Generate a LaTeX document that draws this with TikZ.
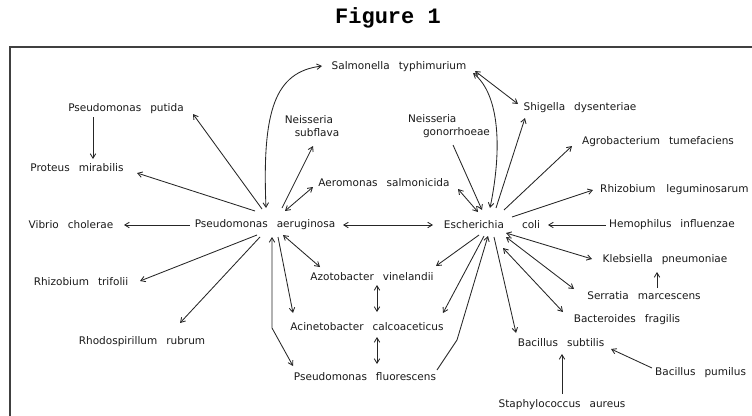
\documentclass[tikz,border=0pt]{standalone}
\usepackage{fontspec}
\usetikzlibrary{arrows.meta}
\newfontfamily\labfont{DejaVu Sans}
\newfontfamily\titfont{Liberation Mono}
\newcommand\wg{\hspace{9pt}}
\begin{document}
\begin{tikzpicture}[x=1pt,y=-1pt,
  lab/.style={inner sep=0pt, font=\labfont\fontsize{10.5}{13}\selectfont, text=black!90},
  arr/.style={-{Straight Barb[length=4.5pt,width=5.5pt]}, line width=0.85pt, draw=black!85},
  darr/.style={{Straight Barb[length=4.5pt,width=5.5pt]}-{Straight Barb[length=4.5pt,width=5.5pt]}, line width=0.85pt, draw=black!85},
  frame/.style={line width=2.6pt, draw=black!75}]
\useasboundingbox (0,0) rectangle (752,415);
\node[inner sep=0pt, font=\titfont\bfseries\fontsize{22}{24}\selectfont] (title) at (388,18) {Figure 1};
\draw[frame] (10,416) -- (10,47) -- (753,47);
% nodes
\node[lab] (Sal) at (399,67) {Salmonella\wg typhimurium};
\node[lab] (Shi) at (580,108) {Shigella\wg dysenteriae};
\node[lab] (Put) at (126,109) {Pseudomonas\wg putida};
\node[lab, align=left] (NSub) at (312,126.5) {Neisseria\\\hspace*{10pt}subflava};
\node[lab, align=left] (NGon) at (449,126.5) {Neisseria\\\hspace*{15pt}gonorrhoeae};
\node[lab] (Agr) at (658,142) {Agrobacterium\wg tumefaciens};
\node[lab] (Pro) at (77,168) {Proteus\wg mirabilis};
\node[lab] (Aer) at (384,183) {Aeromonas\wg salmonicida};
\node[lab, anchor=west] (RLeg) at (600,190) {Rhizobium\hspace{11pt}leguminosarum};
\node[lab] (Vib) at (71,225) {Vibrio\wg cholerae};
\node[lab] (PA) at (265,225) {Pseudomonas\wg aeruginosa};
\node[lab] (EC) at (492,225) {Escherichia\hspace{18pt}coli};
\node[lab] (Hem) at (672,225) {Hemophilus\wg influenzae};
\node[lab] (RTri) at (81,282) {Rhizobium\wg trifolii};
\node[lab] (Azo) at (372,277) {Azotobacter\wg vinelandii};
\node[lab] (Kle) at (665,260) {Klebsiella\wg pneumoniae};
\node[lab] (Ser) at (644,296) {Serratia\wg marcescens};
\node[lab] (Aci) at (367,327) {Acinetobacter\wg calcoaceticus};
\node[lab] (Bac) at (627,320) {Bacteroides\wg fragilis};
\node[lab] (Rho) at (142,342) {Rhodospirillum\wg rubrum};
\node[lab] (BSub) at (561,343) {Bacillus\wg subtilis};
\node[lab, anchor=west] (BPum) at (655,373) {Bacillus\wg pumilus};
\node[lab] (PFl) at (365,377) {Pseudomonas\wg fluorescens};
\node[lab] (Sta) at (562,405) {Staphylococcus\wg aureus};
% Pseudomonas aeruginosa connectors
\draw[arr] ([shift={(-3,-16)}]PA.center) -- ([shift={(67,5)}]Put.center);
\draw[arr] ([shift={(-10,-14)}]PA.center) -- ([shift={(60,5)}]Pro.center);
\draw[darr] ([shift={(1,-17)}]PA.center) .. controls +(-4,-98) and +(-47,6) .. ([shift={(-77,-1)}]Sal.center);
\draw[arr] ([shift={(-75,0)}]PA.center) -- ([shift={(53,0)}]Vib.center);
\draw[arr] ([shift={(-8,10)}]PA.center) -- ([shift={(59,-1)}]RTri.center);
\draw[arr] ([shift={(-5,12)}]PA.center) -- ([shift={(38,-19)}]Rho.center);
\draw[darr] ([shift={(78,0)}]PA.center) -- ([shift={(-59,0)}]EC.center);
\draw[arr] ([shift={(17,-17)}]PA.center) -- ([shift={(1,19.5)}]NSub.center);
\draw[darr] ([shift={(20,-14)}]PA.center) -- ([shift={(-71,4)}]Aer.center);
\draw[darr] ([shift={(18,10)}]PA.center) -- ([shift={(-52,-10)}]Azo.center);
\draw[arr] ([shift={(13,12)}]PA.center) -- ([shift={(-74,-14)}]Aci.center);
\draw[darr] ([shift={(7,12)}]PA.center) -- ++(0,91) -- ([shift={(-72,-11)}]PFl.center);
% Escherichia coli connectors
\draw[arr] ([shift={(4,18.5)}]NGon.center) -- ([shift={(-10,-15)}]EC.center);
\draw[darr] ([shift={(74,6)}]Aer.center) -- ([shift={(-14,-13)}]EC.center);
\draw[darr] ([shift={(74,6)}]Sal.center) .. controls +(27,22) and +(12,-58) .. ([shift={(-2,-17)}]EC.center);
\draw[darr] ([shift={(76,4)}]Sal.center) -- ([shift={(-62,-4)}]Shi.center);
\draw[arr] ([shift={(4,-17)}]EC.center) -- ([shift={(-55,10)}]Shi.center);
\draw[arr] ([shift={(12,-15)}]EC.center) -- ([shift={(-86,4)}]Agr.center);
\draw[arr] ([shift={(20,-8)}]EC.center) -- ([shift={(-7,0)}]RLeg.west);
\draw[arr] ([shift={(-3,0)}]Hem.west) -- ([shift={(56,0)}]EC.center);
\draw[darr] ([shift={(14,8)}]EC.center) -- ([shift={(-73,-1)}]Kle.center);
\draw[arr] ([shift={(13,-8)}]Ser.center) -- ([shift={(-8,12)}]Kle.center);
\draw[darr] ([shift={(14,12)}]EC.center) -- ([shift={(-70,-7)}]Ser.center);
\draw[darr] ([shift={(11,23)}]EC.center) -- ([shift={(-64,-8)}]Bac.center);
\draw[arr] ([shift={(2,12)}]EC.center) -- ([shift={(-45,-10)}]BSub.center);
\draw[arr] ([shift={(-3,-5)}]BPum.west) -- ([shift={(50,6)}]BSub.center);
\draw[arr] ([shift={(0,-11)}]Sta.center) -- ([shift={(1,11)}]BSub.center);
\draw[arr] ([shift={(-13,10)}]EC.center) -- ([shift={(64,-11)}]Azo.center);
\draw[arr] ([shift={(-8,11)}]EC.center) -- ([shift={(76,-14)}]Aci.center);
\draw[arr] ([shift={(72,-7)}]PFl.center) -- ++(20,-30) -- ([shift={(-4,11)}]EC.center);
% middle column and left
\draw[darr] ([shift={(5,8)}]Azo.center) -- ([shift={(10,-15)}]Aci.center);
\draw[darr] ([shift={(10,10)}]Aci.center) -- ([shift={(12,-13)}]PFl.center);
\draw[arr] ([shift={(-33,8)}]Put.center) -- ([shift={(16,-9)}]Pro.center);
\end{tikzpicture}
\end{document}
